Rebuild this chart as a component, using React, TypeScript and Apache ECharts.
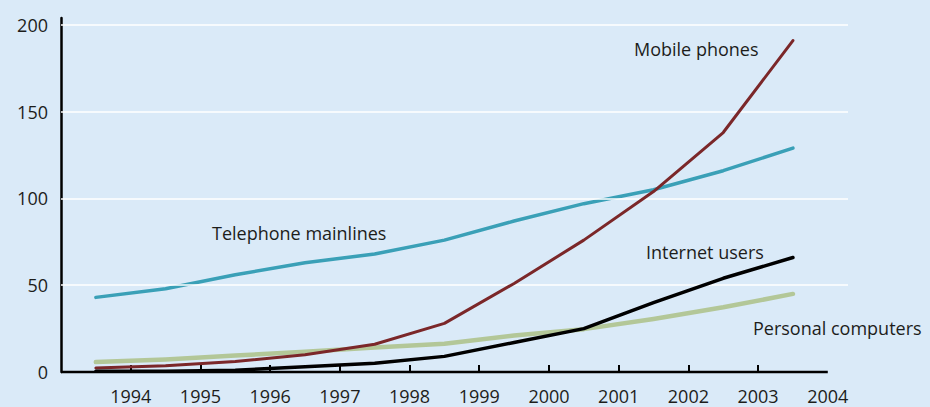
import React, { useEffect, useRef } from "react";
import * as echarts from "echarts";

// Data points are plotted mid-year
const pointYears = [1993.5, 1994.5, 1995.5, 1996.5, 1997.5, 1998.5, 1999.5, 2000.5, 2001.5, 2002.5, 2003.5];
const tickYears = [1994, 1995, 1996, 1997, 1998, 1999, 2000, 2001, 2002, 2003];
const labelYears = [1994, 1995, 1996, 1997, 1998, 1999, 2000, 2001, 2002, 2003, 2004];
const yLabels = [0, 50, 100, 150, 200];
const gridValues = [50, 100, 150, 200];

const telephone = [43, 48, 56, 63, 68, 76, 87, 97, 105, 116, 129];
const mobile = [2.3, 3.6, 6, 10, 16, 28, 51, 76, 104, 138, 191];
const internet = [0.5, 0.5, 1, 3, 5, 9, 17, 25, 40, 54, 66];
const computers = [5.7, 7.2, 9.5, 11.6, 14.1, 16.3, 21, 24.7, 30.6, 37.3, 45];

const FONT = "'Open Sans', 'Noto Sans', sans-serif";
const TEXT = "#1d1d1b";
const BG = "#daeaf8";

const pairs = (vals: number[]) => pointYears.map((x, i) => [x, vals[i]]);

export default function App() {
  const ref = useRef<HTMLDivElement>(null);
  useEffect(() => {
    document.body.style.margin = "0";
    if (!ref.current) return;
    const chart = echarts.init(ref.current, null, { renderer: "svg" });
    const lineSeries = (name: string, vals: number[], color: string, width: number, z: number) => ({
      name,
      type: "line",
      data: pairs(vals),
      showSymbol: false,
      symbol: "none",
      smooth: false,
      z,
      lineStyle: { color, width, cap: "round", join: "round" },
      silent: true,
    });
    chart.setOption({
      animation: false,
      backgroundColor: BG,
      textStyle: { fontFamily: FONT },
      grid: { left: 61, top: 18, width: 787, height: 354, containLabel: false },
      xAxis: {
        type: "value",
        min: 1993,
        max: 2004.29,
        interval: 1,
        axisLine: { show: false },
        axisTick: {
          show: true,
          inside: true,
          length: 7,
          lineStyle: { color: "#000", width: 2 },
          customValues: tickYears,
        },
        axisLabel: {
          customValues: labelYears,
          margin: 15,
          fontSize: 18,
          lineHeight: 18,
          fontFamily: FONT,
          color: TEXT,
          formatter: (v: number) => String(v),
        },
        splitLine: { show: false },
      },
      yAxis: {
        type: "value",
        min: 0,
        max: 204,
        interval: 50,
        axisLine: { show: true, lineStyle: { color: "#000", width: 2.5 } },
        axisTick: { show: false },
        axisLabel: {
          customValues: yLabels,
          margin: 13,
          fontSize: 18,
          fontFamily: FONT,
          color: TEXT,
        },
        splitLine: { show: false },
      },
      series: [
        {
          name: "grid",
          type: "line",
          data: pairs(computers),
          showSymbol: false,
          symbol: "none",
          lineStyle: { opacity: 0, width: 0 },
          silent: true,
          z: 1,
          markLine: {
            silent: true,
            symbol: ["none", "none"],
            label: { show: false },
            lineStyle: { color: "#ffffff", width: 1.5, type: "solid" },
            data: gridValues.map((v) => ({ yAxis: v })),
          },
        },
        {
          name: "axis",
          type: "line",
          data: pairs(computers),
          showSymbol: false,
          symbol: "none",
          lineStyle: { opacity: 0, width: 0 },
          silent: true,
          z: 1,
          markLine: {
            silent: true,
            symbol: ["none", "none"],
            label: { show: false },
            lineStyle: { color: "#000000", width: 2.3, type: "solid" },
            data: [[{ coord: [1993, 0] }, { coord: [2004, 0] }]],
          },
        },
        lineSeries("Personal computers", computers, "#b3c798", 4.5, 3),
        lineSeries("Telephone mainlines", telephone, "#3aa0b7", 3.5, 4),
        lineSeries("Mobile phones", mobile, "#7b2729", 3, 5),
        lineSeries("Internet users", internet, "#000000", 3.5, 6),
      ],
      graphic: [
        { type: "text", x: 634, y: 49, style: { text: "Mobile phones", fill: TEXT, fontSize: 18, fontFamily: FONT, verticalAlign: "middle", align: "left" } },
        { type: "text", x: 212, y: 233, style: { text: "Telephone mainlines", fill: TEXT, fontSize: 18, fontFamily: FONT, verticalAlign: "middle", align: "left" } },
        { type: "text", x: 646, y: 252, style: { text: "Internet users", fill: TEXT, fontSize: 18, fontFamily: FONT, verticalAlign: "middle", align: "left" } },
        { type: "text", x: 753, y: 327.5, style: { text: "Personal computers", fill: TEXT, fontSize: 18, fontFamily: FONT, verticalAlign: "middle", align: "left" } },
      ],
    });
    return () => chart.dispose();
  }, []);
  return <div ref={ref} style={{ width: 930, height: 407, background: BG }} />;
}
